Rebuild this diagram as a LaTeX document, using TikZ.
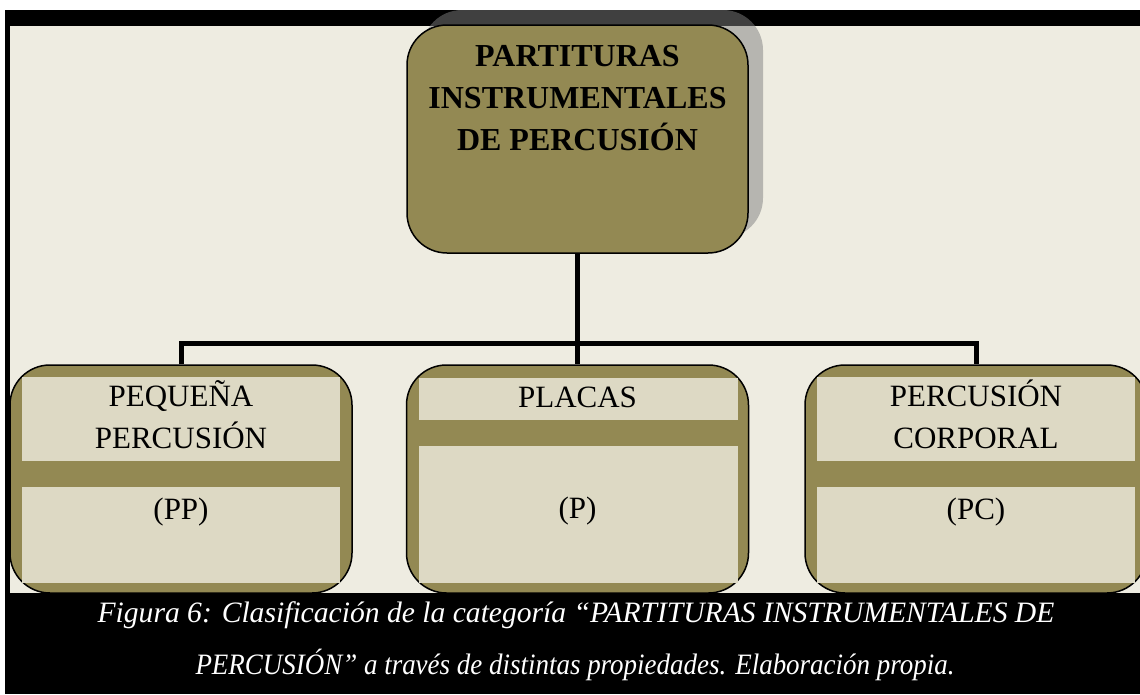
\documentclass[tikz,border=0pt]{standalone}
\usepackage{fontspec}
\setmainfont{Liberation Serif}
\usetikzlibrary{shadows}
\definecolor{oliveacc}{HTML}{938953}
\definecolor{panelc}{HTML}{DDD9C4}
\definecolor{creamc}{HTML}{EEECE1}
\begin{document}
\begin{tikzpicture}[x=1pt,y=-1pt,
  box/.style={draw=black, line width=1.5pt, fill=oliveacc, rounded corners=40pt,
    minimum width=342pt, minimum height=228pt, inner sep=0pt},
  panel/.style={fill=panelc},
  conn/.style={line width=5pt, draw=black},
  lbl/.style={font=\fontsize{31}{37}\selectfont, anchor=base, inner sep=0pt},
  ttl/.style={font=\bfseries\fontsize{32}{38}\selectfont, anchor=base, inner sep=0pt},
  captxt/.style={font=\itshape\fontsize{29.6}{35}\selectfont, text=white, anchor=base, inner sep=0pt}]
\useasboundingbox (0,0) rectangle (1140,694);
\clip (0,0) rectangle (1140,694);
% background
\fill[white] (0,0) rectangle (1140,694);
\fill[black] (5,10) rectangle (1140,694);
\fill[creamc] (10,26) rectangle (1140,593);
% main box
\node[box, minimum width=341pt, drop shadow={shadow xshift=15pt, shadow yshift=15pt, opacity=0.5, fill=black!50}] (top) at (577.5,139) {};
\node[ttl] (t1) at (577.5,66) {PARTITURAS};
\node[ttl] (t2) at (577.5,108) {INSTRUMENTALES};
\node[ttl] (t3) at (577.5,150) {DE PERCUSIÓN};
% bottom boxes
\node[box] (pp) at (181,479) {};
\node[box] (pl) at (577.5,479) {};
\node[box] (pc) at (976,479) {};
% panels
\foreach \b in {pp,pc}{
  \fill[panel] ([shift={(13,13)}]\b.north west) rectangle ([shift={(-13,97)}]\b.north east);
  \fill[panel] ([shift={(13,123)}]\b.north west) rectangle ([shift={(-13,-11)}]\b.south east);
}
\fill[panel] ([shift={(13,14)}]pl.north west) rectangle ([shift={(-11,56)}]pl.north east);
\fill[panel] ([shift={(13,82)}]pl.north west) rectangle ([shift={(-11,-11)}]pl.south east);
% connectors
\coordinate (hub) at (577.5,343);
\draw[conn] (top.south) -- (pl.north);
\draw[conn] (pp.north) |- (hub) -| (pc.north);
% labels
\node[lbl] (pp1) at (181,406) {PEQUEÑA};
\node[lbl] (pp2) at (181,448) {PERCUSIÓN};
\node[lbl] (pp3) at (181,519) {(PP)};
\node[lbl] (pl1) at (577.5,407) {PLACAS};
\node[lbl] (pl2) at (577.5,518) {(P)};
\node[lbl] (pc1) at (976,406) {PERCUSIÓN};
\node[lbl] (pc2) at (976,448) {CORPORAL};
\node[lbl] (pc3) at (976,519) {(PC)};
% caption
\node[captxt] (cap1) at (576,622) {Figura 6: Clasificación de la categoría “PARTITURAS INSTRUMENTALES DE};
\node[captxt] (cap2) at (575,674) {\scalebox{0.911}[1]{PERCUSIÓN” a través de distintas propiedades. Elaboración propia.}};
\end{tikzpicture}
\end{document}
